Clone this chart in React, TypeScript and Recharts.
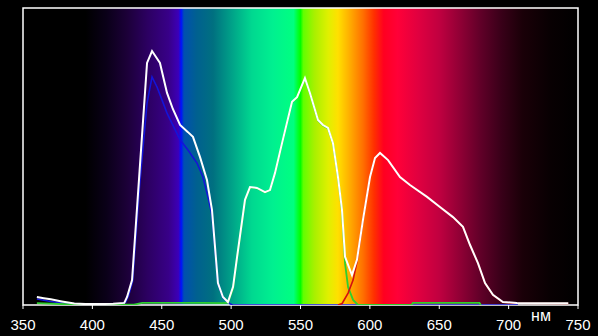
import React from "react";
import { LineChart, Line, XAxis, YAxis, ReferenceArea } from "recharts";

const xTicks = [350, 400, 450, 500, 550, 600, 650, 700, 750];
const unitLabel = "нм";

const whiteNm = [360, 365, 370, 378, 387, 395, 405, 415, 423, 425, 428.6, 434, 439.4, 443, 448.7, 453.8, 458, 463.2, 468.9, 472.5, 477.6, 482.6, 486.2, 488.4, 490.5, 494.1, 497.7, 501.4, 504.3, 510, 513.6, 518.6, 524.4, 528, 531.6, 536.7, 543.9, 547.5, 553.2, 556.8, 562.6, 566.2, 569.8, 573.4, 577, 579.9, 582.1, 587.1, 590.7, 595, 600.1, 603.7, 607.3, 613.1, 621.7, 628.9, 641.2, 650.5, 659.9, 667.1, 672.2, 677.9, 683, 688.7, 695.9, 706, 720, 743];
const whiteLevel = [2.7, 2.3, 1.9, 1.2, 0.5, 0.3, 0.3, 0.4, 0.7, 2.7, 8.4, 45, 81.5, 85.5, 81.5, 71.4, 66, 60.6, 58.2, 56.6, 49.8, 42.1, 32, 19.5, 7.4, 2.7, 1.0, 6.1, 16.2, 35.4, 39.7, 39.4, 38, 38.7, 44.4, 54.5, 68.4, 70, 76.4, 71.4, 62.3, 60.6, 59.6, 54.5, 43.1, 32, 16.2, 10.1, 15.2, 28.6, 43.1, 49.5, 51.2, 48.8, 43.1, 40.4, 36.4, 33, 29.6, 26.3, 20.2, 14.1, 7.4, 3.4, 1.0, 0.7, 0.6, 0.6];

const blueNm = [360, 370, 380, 390, 400, 420, 424, 426, 429, 434, 439.4, 443, 446.6, 453.8, 463.2, 468.9, 475.4, 479.7, 483.3, 486.2, 488.4, 490.5, 494.1, 497.7, 501, 706.7];
const blueLevel = [2.0, 1.2, 0.6, 0.2, 0.1, 0.2, 1.0, 3, 8, 40, 68, 76.8, 73.4, 64.6, 55.6, 52.2, 47.8, 43.1, 36.4, 30.3, 19, 7.2, 2.5, 0.8, 0, 0];

const greenNm = [360, 390, 430, 436, 480, 494, 497.7, 501.4, 504.3, 510, 513.6, 518.6, 524.4, 528, 531.6, 536.7, 543.9, 547.5, 553.2, 556.8, 562.6, 566.2, 569.8, 573.4, 577, 579.9, 582.1, 584.3, 587.9, 591.5, 630, 631, 679, 680];
const greenLevel = [0.6, 0.1, 0.1, 0.7, 0.7, 0.6, 0.8, 5.5, 15.8, 35, 39.5, 39.3, 37.9, 38.6, 44.2, 54.3, 68.2, 69.8, 76.2, 71.2, 62.1, 60.4, 59.4, 54.3, 43, 31.5, 14, 6, 1.7, 0, 0, 0.7, 0.7, 0];

const redNm = [577, 580, 584.3, 587.9, 590.7, 595, 600.1, 603.7, 607.3, 613.1, 621.7, 628.9, 641.2, 650.5, 659.9, 667.1, 672.2, 677.9, 683, 688.7, 695.9, 706, 743];
const redLevel = [0, 0.5, 4, 8.4, 14.5, 28.4, 43, 49.4, 51.1, 48.7, 43, 40.3, 36.3, 32.9, 29.5, 26.2, 20.1, 14, 7.3, 3.3, 0.9, 0.6, 0.5];

const spectrumNm = [350, 395, 410, 425, 440, 455, 462, 464, 466, 475, 487, 500, 515, 530, 545, 548, 550, 552, 560, 570, 577, 585, 595, 603, 610, 620, 635, 650, 665, 680, 695, 710, 730, 750];
const spectrumColor = ["#000000", "#000000", "#0a0018", "#1c0038", "#2c0062", "#380088", "#3c00b8", "#0010ff", "#0050b0", "#006090", "#007080", "#00a088", "#00d890", "#00f090", "#00ff80", "#00ff30", "#00ff00", "#60ff00", "#a8f000", "#e0f000", "#ffe000", "#ffb000", "#ff7000", "#ff3000", "#ff0020", "#ff0038", "#e00040", "#c00040", "#900035", "#600028", "#380018", "#1a0008", "#080002", "#000000"];

const zip = (xs: number[], ys: number[]) => xs.map((x, i) => ({ x, y: ys[i] }));
const whiteData = zip(whiteNm, whiteLevel);
const blueData = zip(blueNm, blueLevel);
const greenData = zip(greenNm, greenLevel);
const redData = zip(redNm, redLevel);

const FONT = "'Liberation Sans Narrow', 'Arial Narrow', 'Liberation Sans', sans-serif";

const UnitLabel = (props: any) => {
  const vb = props.viewBox || {};
  return (
    <text x={vb.x + vb.width - 37} y={vb.y + 16} fill="#ffffff" fontSize={16} fontFamily={FONT} textAnchor="middle">
      {unitLabel}
    </text>
  );
};

export default function App() {
  return (
    <div style={{ position: "absolute", left: 0, top: 0, width: 598, height: 336, background: "#000" }}>
      <LineChart width={598} height={336} margin={{ top: 8, right: 20, left: 23, bottom: 0 }}>
        <defs>
          <linearGradient id="spec" x1="0" y1="0" x2="1" y2="0">
            {spectrumNm.map((nm, i) => (
              <stop key={i} offset={(nm - 350) / 400} stopColor={spectrumColor[i]} />
            ))}
          </linearGradient>
        </defs>
        <XAxis
          type="number"
          dataKey="x"
          domain={[350, 750]}
          ticks={xTicks}
          allowDataOverflow
          height={31}
          stroke="#ffffff"
          axisLine={false}
          tickLine={{ stroke: "#ffffff" }}
          tickSize={4}
          tickMargin={10}
          tick={{ fill: "#ffffff", fontSize: 15, fontFamily: FONT }}
          label={<UnitLabel />}
        />
        <YAxis type="number" domain={[0, 100]} hide allowDataOverflow />
        <ReferenceArea x1={350} x2={750} y1={0} y2={100} fill="url(#spec)" fillOpacity={1} stroke="#ffffff" strokeWidth={1.5} ifOverflow="visible" />
        <Line data={blueData} dataKey="y" type="linear" stroke="#1414d8" strokeWidth={1.6} dot={false} isAnimationActive={false} />
        <Line data={greenData} dataKey="y" type="linear" stroke="#2ed02e" strokeWidth={1.8} dot={false} isAnimationActive={false} />
        <Line data={redData} dataKey="y" type="linear" stroke="#d41010" strokeWidth={1.6} dot={false} isAnimationActive={false} />
        <Line data={whiteData} dataKey="y" type="linear" stroke="#ffffff" strokeWidth={2} dot={false} isAnimationActive={false} />
      </LineChart>
    </div>
  );
}
